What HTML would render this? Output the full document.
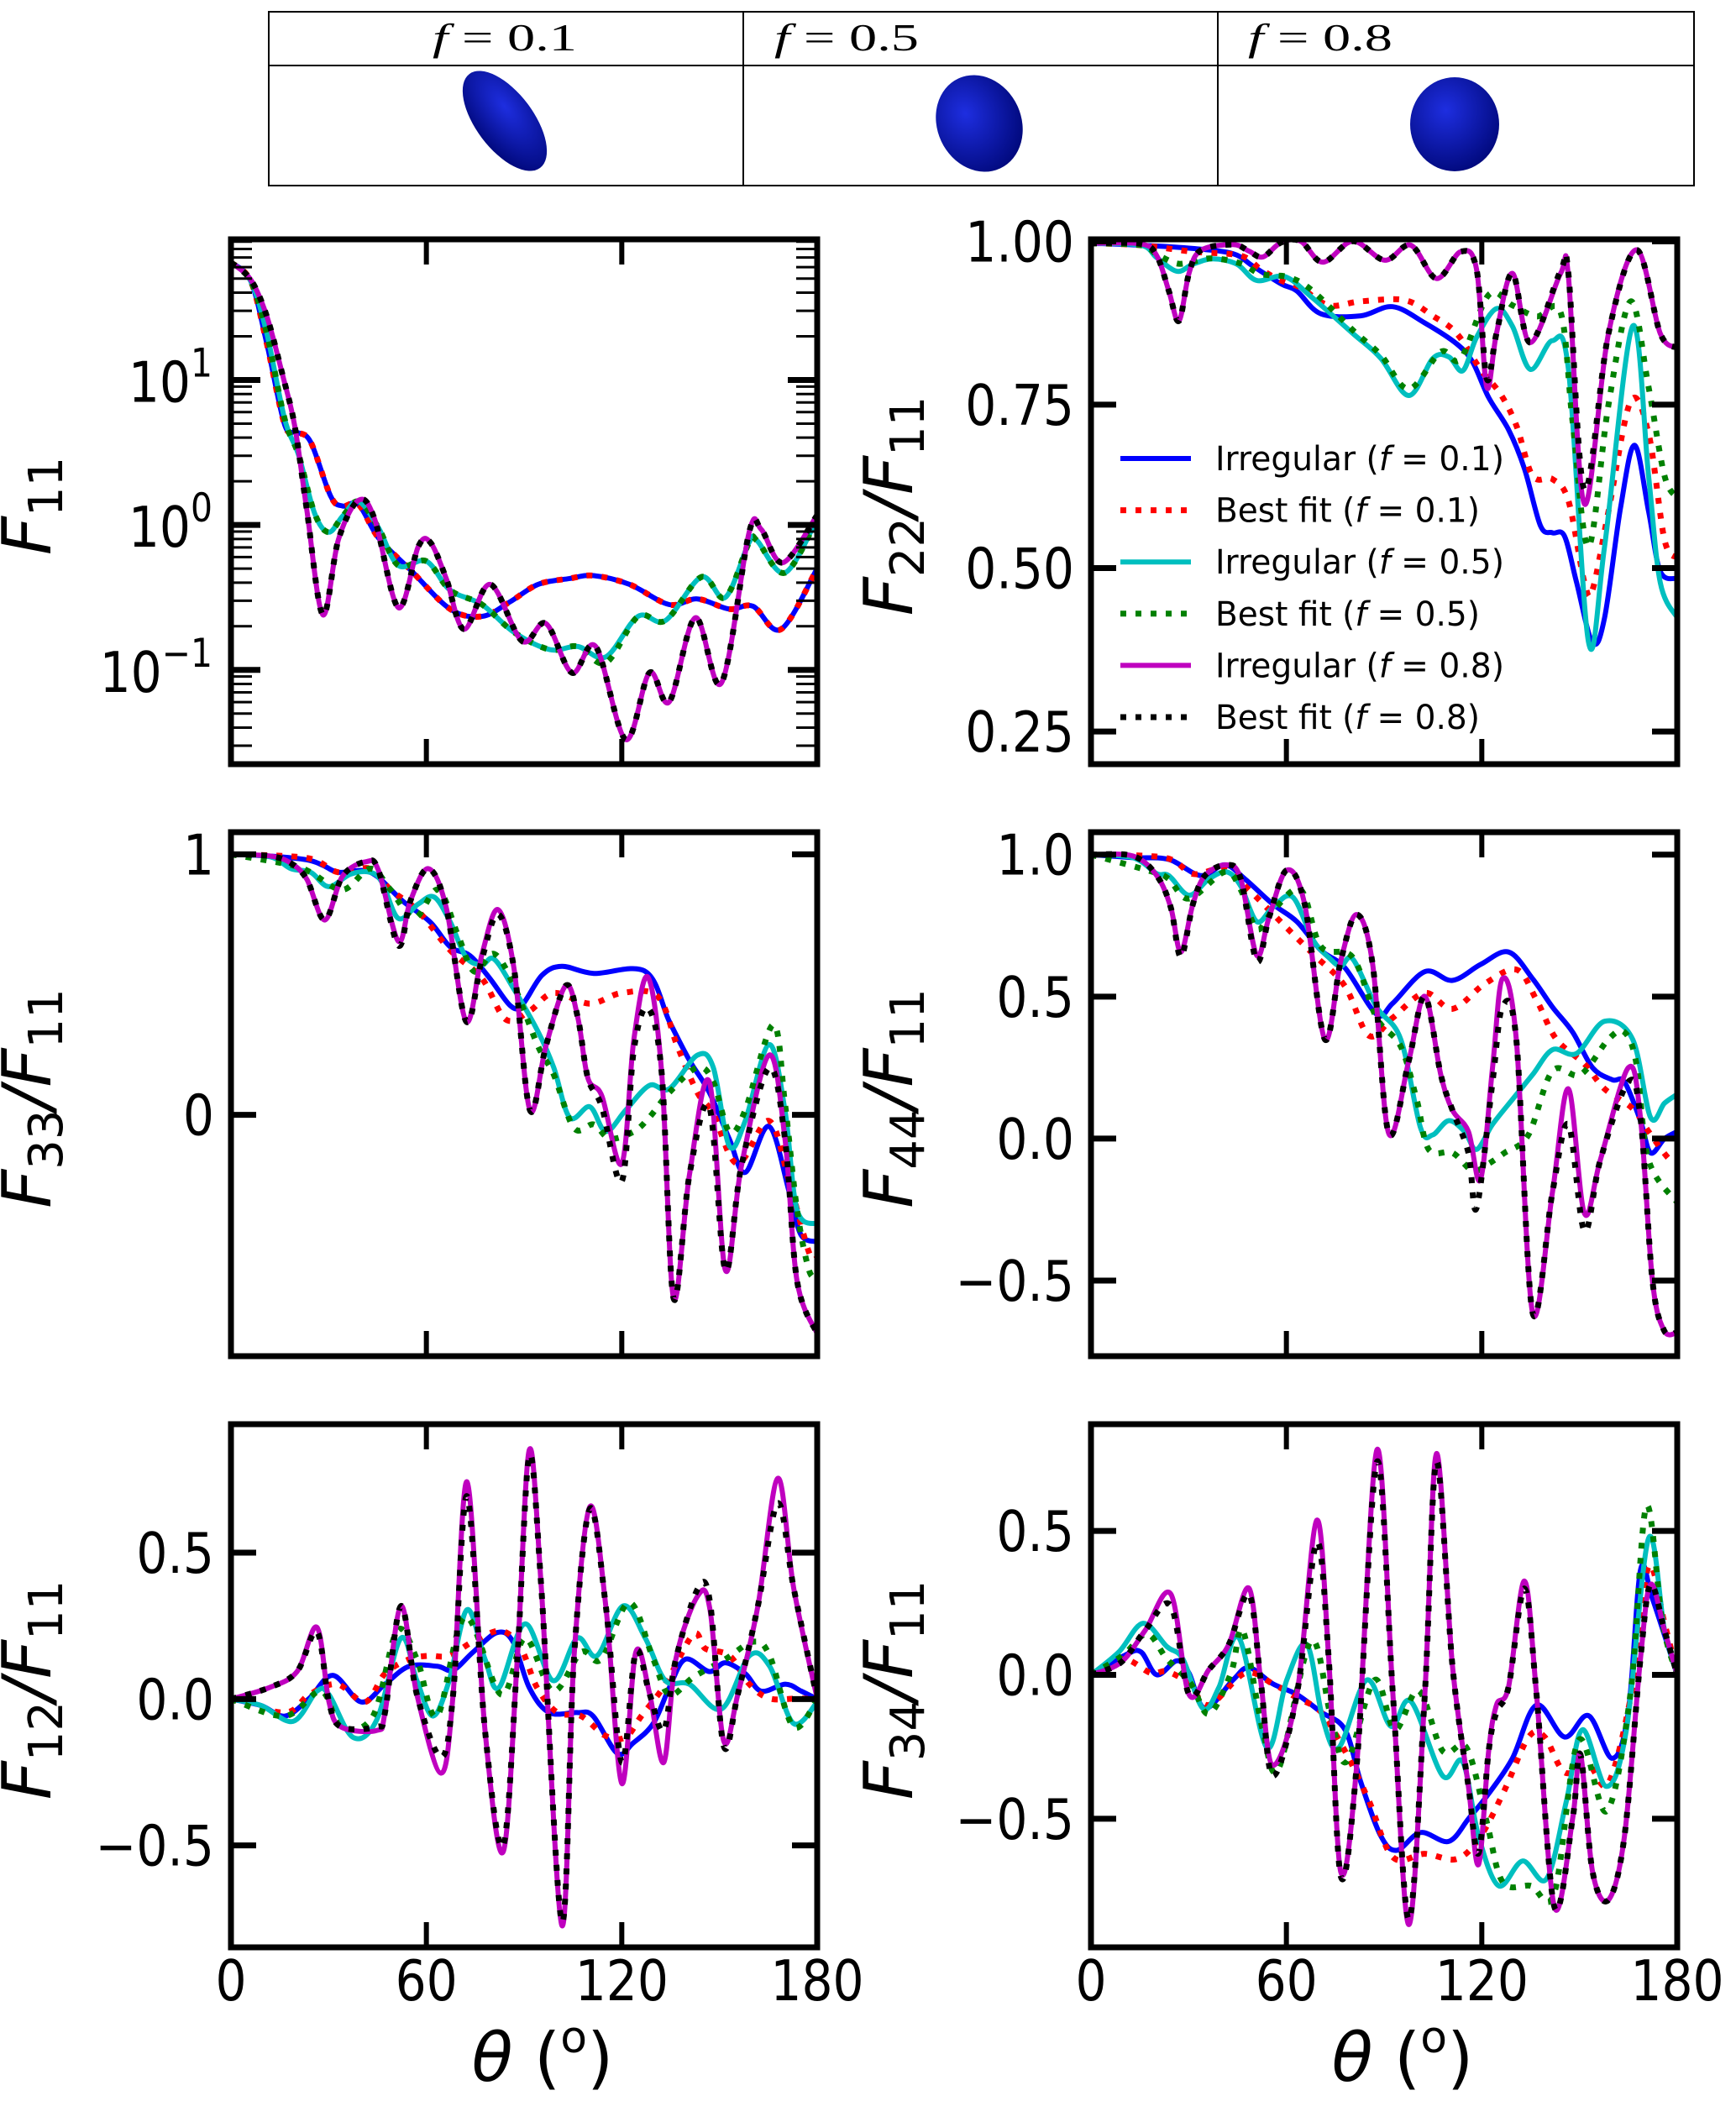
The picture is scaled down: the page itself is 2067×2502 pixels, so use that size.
<!DOCTYPE html>
<html><head><meta charset="utf-8"><title>Scattering matrix elements</title>
<style>
html,body{margin:0;padding:0;background:#fff;}
svg{display:block;font-family:"DejaVu Sans","Liberation Sans",sans-serif;}
</style></head>
<body>
<svg id="fig" xmlns="http://www.w3.org/2000/svg" width="2067" height="2502" viewBox="0 0 2067 2502">
<defs>
<radialGradient id="gb" cx="40%" cy="35%" r="70%"><stop offset="0" stop-color="#1e2ee0"/><stop offset="1" stop-color="#00087a"/></radialGradient>
</defs>
<g>
<rect x="320" y="14" width="1697" height="207" fill="none" stroke="#000" stroke-width="2"/>
<line x1="320" y1="78" x2="2017" y2="78" stroke="#000" stroke-width="2"/>
<line x1="885" y1="14" x2="885" y2="221" stroke="#000" stroke-width="2"/>
<line x1="1450" y1="14" x2="1450" y2="221" stroke="#000" stroke-width="2"/>
<text x="515" y="60" font-family="Liberation Serif,serif" font-size="46" textLength="172" lengthAdjust="spacingAndGlyphs"><tspan font-style="italic">f</tspan> = 0.1</text>
<text x="922" y="60" font-family="Liberation Serif,serif" font-size="46" textLength="172" lengthAdjust="spacingAndGlyphs"><tspan font-style="italic">f</tspan> = 0.5</text>
<text x="1486" y="60" font-family="Liberation Serif,serif" font-size="46" textLength="172" lengthAdjust="spacingAndGlyphs"><tspan font-style="italic">f</tspan> = 0.8</text>
<ellipse cx="601" cy="144" rx="70" ry="34" transform="rotate(53 601 144)" fill="url(#gb)"/>
<ellipse cx="1166" cy="147" rx="50" ry="59" transform="rotate(-25 1166 147)" fill="url(#gb)"/>
<ellipse cx="1732" cy="148" rx="53" ry="56" fill="url(#gb)"/>
</g>
</svg>
<script>
// ---------- F11 ----------
const f11_irr01_t=[0,6.1,11.0,16.5,20.2,24.5,30.6,34.3,39.2,45.3,55.1,67.3,77.1,85.7,94.3,104.0,111.4,122.4,134.6,143.2,153.0,160.3,168.9,180];
const f11_irr01_v=[64.6,47.9,17.8,4.90,4.37,3.72,1.58,1.35,1.38,0.813,0.490,0.263,0.234,0.295,0.389,0.427,0.447,0.389,0.282,0.309,0.263,0.275,0.191,0.501];
const f11_fit01_t=[0,6.1,11.0,16.5,20.2,24.5,30.6,34.3,39.2,45.3,55.1,67.3,77.1,85.7,94.3,104.0,111.4,122.4,134.6,143.2,153.0,160.3,168.9,180];
const f11_fit01_v=[64.6,47.9,17.8,4.90,4.37,3.72,1.58,1.35,1.38,0.813,0.490,0.263,0.234,0.295,0.389,0.427,0.447,0.389,0.282,0.309,0.263,0.275,0.191,0.501];
const f11_irr05_t=[0,6.1,11.0,16.5,20.8,25.7,30.0,34.3,39.2,45.3,51.4,60.0,67.3,77.1,86.9,97.9,106.5,115.1,125.0,133.4,144.4,151.8,159.1,161.6,170.1,180];
const f11_irr05_v=[64.6,47.9,20.9,5.37,3.02,1.20,0.891,1.15,1.45,0.955,0.525,0.562,0.355,0.282,0.182,0.138,0.145,0.123,0.234,0.219,0.437,0.316,0.759,0.776,0.468,1.10];
const f11_fit05_t=[0,6.1,11.0,16.5,20.8,25.7,30.0,34.3,39.2,45.3,51.4,60.0,67.3,77.1,86.9,97.9,106.5,115.1,125.0,133.4,144.4,151.8,159.1,161.6,170.1,180];
const f11_fit05_v=[64.6,47.9,20.9,5.37,3.02,1.20,0.891,1.15,1.45,0.955,0.525,0.562,0.355,0.282,0.182,0.138,0.145,0.112,0.234,0.219,0.437,0.316,0.759,0.776,0.468,1.10];
const f11_irr08_t=[0,6.1,11.0,15.9,19.6,23.3,28.2,33.0,39.2,44.1,51.4,57.5,61.2,66.1,71.6,79.6,89.4,96.7,104.7,112.0,121.2,128.5,134.6,142.6,150.6,159.1,162.8,169.5,180];
const f11_irr08_v=[64.6,49.0,27.5,10.7,4.79,1.26,0.240,0.794,1.48,1.10,0.269,0.708,0.759,0.427,0.191,0.389,0.158,0.209,0.0955,0.145,0.0331,0.0955,0.0603,0.229,0.0813,0.891,0.933,0.550,1.17];
const f11_fit08_t=[0,6.1,11.0,15.9,19.6,23.3,28.2,33.0,39.2,44.1,51.4,57.5,61.2,66.1,71.6,79.6,89.4,96.7,104.7,112.0,121.2,128.5,134.6,142.6,150.6,159.1,162.8,169.5,180];
const f11_fit08_v=[64.6,49.0,27.5,10.7,4.79,1.26,0.240,0.794,1.48,1.10,0.269,0.708,0.759,0.427,0.191,0.389,0.158,0.209,0.0955,0.145,0.0331,0.0955,0.0603,0.229,0.0813,0.891,0.933,0.550,1.17];
// ---------- F22/F11 ----------
const f22_irr01_t=[0,15.3,31.3,43.6,49.7,58.3,63.2,70.6,82.8,92.6,102.5,112.3,117.2,122.1,128.2,133.1,138.0,141.7,145.4,149.1,154.0,157.7,162.6,166.9,171.2,174.8,180];
const f22_irr01_v=[0.997,0.994,0.989,0.981,0.962,0.935,0.924,0.889,0.886,0.900,0.875,0.843,0.815,0.761,0.712,0.652,0.565,0.554,0.549,0.478,0.386,0.424,0.592,0.688,0.587,0.495,0.484];
const f22_fit01_t=[0,15.3,31.3,46.0,52.1,58.3,64.4,73.0,82.8,96.3,104.9,112.3,119.6,125.8,130.7,135.6,141.7,146.6,151.5,154.0,158.9,165.7,171.2,176.1,180];
const f22_fit01_v=[0.997,0.994,0.984,0.978,0.957,0.940,0.929,0.902,0.908,0.910,0.886,0.859,0.804,0.766,0.717,0.641,0.636,0.603,0.478,0.467,0.587,0.755,0.706,0.543,0.516];
const f22_irr05_t=[0,15.3,20.2,26.4,31.3,37.4,44.8,50.9,59.5,68.1,80.4,89.0,97.6,105.0,109.9,114.2,118.4,124.5,129.4,134.9,141.7,146.6,152.8,157.7,166.3,171.2,174.8,180];
const f22_irr05_v=[0.997,0.994,0.975,0.954,0.965,0.973,0.965,0.940,0.946,0.913,0.859,0.821,0.764,0.821,0.823,0.802,0.853,0.897,0.870,0.804,0.848,0.804,0.386,0.533,0.870,0.641,0.478,0.424];
const f22_fit05_t=[0,15.3,20.2,26.4,31.3,37.4,46.0,52.1,60.7,68.1,80.4,89.0,97.6,107.4,113.5,122.1,129.4,136.8,144.2,147.9,152.8,158.9,165.7,171.2,176.1,180];
const f22_fit05_v=[0.997,0.994,0.980,0.966,0.969,0.974,0.966,0.950,0.945,0.924,0.864,0.826,0.774,0.831,0.820,0.918,0.902,0.885,0.891,0.723,0.533,0.750,0.908,0.777,0.641,0.608];
const f22_irr08_t=[0,15.3,20.2,23.9,27.0,30.1,33.7,43.6,48.5,52.8,58.3,64.4,71.2,80.4,90.2,98.2,106.1,113.5,118.4,121.5,124.5,129.4,134.9,144.2,146.6,151.5,158.9,167.5,174.8,180];
const f22_irr08_v=[0.997,0.996,0.978,0.924,0.878,0.951,0.986,0.995,0.985,0.976,0.998,1.0,0.968,1.0,0.971,0.994,0.943,0.984,0.957,0.777,0.859,0.951,0.845,0.951,0.946,0.598,0.859,0.987,0.859,0.837];
const f22_fit08_t=[0,15.3,20.2,23.9,27.0,30.1,33.7,43.6,48.5,52.8,58.3,64.4,71.2,80.4,90.2,98.2,106.1,113.5,118.4,121.5,124.5,129.4,134.9,144.2,146.6,151.5,158.9,167.5,174.8,180];
const f22_fit08_v=[0.997,0.996,0.978,0.924,0.878,0.951,0.986,0.995,0.985,0.976,0.998,1.0,0.968,1.0,0.971,0.994,0.943,0.984,0.957,0.790,0.859,0.951,0.845,0.955,0.950,0.620,0.859,0.987,0.859,0.837];
// ---------- F33/F11 ----------
const f33_irr01_t=[0,12.2,23.3,28.2,33.0,40.4,45.3,52.6,61.2,67.3,73.4,79.6,85.7,89.3,95.5,101.6,111.4,127.3,134.6,140.8,146.9,153.0,157.9,165.2,171.4,175.0,180];
const f33_irr01_v=[1.0,0.993,0.979,0.958,0.931,0.938,0.911,0.822,0.740,0.645,0.611,0.522,0.420,0.420,0.536,0.570,0.543,0.550,0.359,0.209,0.086,-0.092,-0.221,-0.044,-0.296,-0.460,-0.487];
const f33_fit01_t=[0,23.3,33.0,42.8,49.0,57.5,67.3,77.1,84.4,91.8,99.1,110.2,120.0,131.0,137.1,143.2,148.1,155.5,165.2,171.4,177.5,180];
const f33_fit01_v=[1.0,0.986,0.931,0.945,0.864,0.782,0.632,0.523,0.366,0.400,0.468,0.427,0.468,0.455,0.263,0.086,0.005,-0.187,-0.023,-0.255,-0.528,-0.55];
const f33_irr05_t=[0,12.2,18.4,24.5,30.0,36.7,42.8,46.5,51.4,57.5,62.4,67.3,72.2,77.1,80.8,86.9,94.3,99.1,104.0,110.2,115.1,121.2,128.5,134.6,143.2,148.1,153.0,157.9,165.2,170.1,173.8,180];
const f33_irr05_v=[1.0,0.990,0.945,0.931,0.876,0.924,0.931,0.890,0.754,0.809,0.836,0.741,0.605,0.577,0.598,0.482,0.319,0.182,-0.010,0.031,-0.064,0.018,0.113,0.100,0.229,0.182,-0.119,-0.023,0.270,0.018,-0.364,-0.419];
const f33_fit05_t=[0,18.4,24.5,34.3,42.8,49.0,56.3,63.6,69.8,74.7,80.8,86.9,94.3,99.1,105.3,111.4,116.3,123.7,128.5,134.6,143.2,148.1,153.0,157.9,166.5,170.1,173.8,177.5,180];
const f33_fit05_v=[1.0,0.959,0.931,0.864,0.945,0.864,0.755,0.864,0.686,0.550,0.618,0.495,0.263,0.155,-0.050,-0.037,-0.091,-0.064,-0.009,0.086,0.182,0.127,-0.064,0.018,0.346,0.045,-0.364,-0.596,-0.62];
const f33_irr08_t=[0,12.2,18.4,23.3,28.8,34.3,41.6,45.3,51.4,55.1,60.6,66.1,72.2,77.1,82.0,86.9,91.8,96.7,102.8,106.5,109.6,113.9,120.0,123.7,128.0,132.3,135.9,140.8,146.9,151.8,156.7,165.2,170.1,173.8,180];
const f33_irr08_v=[1.0,0.993,0.966,0.904,0.748,0.917,0.972,0.938,0.666,0.822,0.945,0.796,0.359,0.618,0.788,0.562,0.018,0.264,0.496,0.373,0.141,0.072,-0.187,0.289,0.529,0.155,-0.704,-0.228,0.127,-0.595,-0.199,0.229,-0.091,-0.637,-0.84];
const f33_fit08_t=[0,12.2,18.4,23.3,28.8,34.3,41.6,45.3,51.4,55.1,60.6,66.1,72.2,77.1,82.0,86.9,91.8,96.7,102.8,106.5,109.6,113.9,120.0,123.7,128.0,132.3,135.9,140.8,146.9,151.8,156.7,165.2,170.1,173.8,180];
const f33_fit08_v=[1.0,0.993,0.966,0.904,0.748,0.917,0.972,0.938,0.650,0.822,0.945,0.796,0.359,0.600,0.770,0.562,0.018,0.264,0.496,0.373,0.141,0.030,-0.255,0.250,0.410,0.155,-0.704,-0.228,0.030,-0.595,-0.199,0.180,-0.091,-0.637,-0.84];
// ---------- F44/F11 ----------
const f44_irr01_t=[0,12.9,23.9,33.7,41.1,47.3,55.8,63.2,70.6,78.0,87.7,92.6,102.5,111.0,119.6,128.2,135.6,141.7,147.9,154.0,160.1,163.8,168.7,171.8,176.1,180];
const f44_irr01_v=[1.0,0.989,0.983,0.926,0.964,0.914,0.826,0.764,0.663,0.601,0.438,0.476,0.588,0.557,0.613,0.657,0.563,0.463,0.375,0.250,0.207,0.200,0.063,-0.050,0.0,0.025];
const f44_fit01_t=[0,22.7,31.3,41.1,48.5,58.3,68.1,77.9,85.3,92.6,102.5,111.0,120.9,130.7,136.8,142.9,151.5,157.7,166.3,171.2,177.3,180];
const f44_fit01_v=[1.0,0.989,0.932,0.951,0.876,0.763,0.651,0.538,0.363,0.425,0.513,0.457,0.545,0.595,0.488,0.350,0.263,0.175,0.106,0.025,-0.069,-0.08];
const f44_irr05_t=[0,12.9,20.2,23.9,30.1,36.2,41.7,46.0,50.9,55.8,61.9,68.1,73.0,76.7,80.4,87.7,95.1,101.2,104.9,109.8,114.7,118.4,123.3,129.4,135.6,141.7,149.1,157.7,166.3,171.8,176.1,180];
const f44_irr05_v=[1.0,0.989,0.933,0.926,0.857,0.914,0.939,0.889,0.764,0.814,0.851,0.701,0.638,0.607,0.632,0.463,0.350,0.038,0.013,0.063,0.025,-0.038,0.050,0.138,0.225,0.313,0.300,0.413,0.350,0.075,0.125,0.156];
const f44_fit05_t=[0,19.0,23.9,30.1,41.1,46.0,50.9,55.8,64.4,70.6,80.4,87.7,95.1,100.0,103.7,111.0,117.2,122.1,127.0,134.3,141.7,150.3,158.9,163.8,167.5,171.2,180];
const f44_fit05_v=[1.0,0.939,0.914,0.845,0.939,0.876,0.738,0.801,0.876,0.676,0.638,0.425,0.325,0.138,-0.038,-0.050,-0.113,-0.088,-0.050,0.013,0.238,0.225,0.350,0.375,0.263,-0.075,-0.225];
const f44_irr08_t=[0,12.9,20.2,24.5,27.6,31.3,35.0,41.7,46.0,50.9,54.6,60.1,65.6,71.8,76.7,81.6,86.5,91.4,97.6,102.5,107.4,111.0,115.9,119.6,123.3,126.3,130.6,135.6,141.7,146.6,151.5,156.4,165.0,168.7,172.4,176.0,180];
const f44_irr08_v=[1.0,0.995,0.926,0.814,0.657,0.826,0.926,0.964,0.914,0.645,0.776,0.945,0.826,0.350,0.626,0.789,0.613,0.019,0.275,0.501,0.225,0.100,0.025,-0.144,0.250,0.563,0.350,-0.613,-0.188,0.175,-0.263,-0.075,0.250,0.075,-0.500,-0.676,-0.682];
const f44_fit08_t=[0,12.9,20.2,24.5,27.6,31.3,35.0,41.7,46.0,50.9,54.6,60.1,65.6,71.8,76.7,81.6,86.5,91.4,97.6,102.5,107.4,111.0,115.9,118.4,123.3,126.3,130.6,135.6,141.7,146.6,151.5,156.4,165.0,168.7,172.4,176.0,180];
const f44_fit08_v=[1.0,0.995,0.926,0.814,0.640,0.826,0.926,0.964,0.914,0.625,0.776,0.945,0.826,0.350,0.626,0.789,0.613,0.019,0.275,0.501,0.225,0.100,-0.050,-0.244,0.200,0.463,0.350,-0.613,-0.188,0.050,-0.325,-0.075,0.200,0.075,-0.500,-0.676,-0.682];
// ---------- F12/F11 ----------
const f12_irr01_t=[0,9.2,16.6,24.0,31.3,40.0,47.3,54.7,63.3,68.2,74.3,81.7,86.6,91.6,97.7,106.3,111.2,118.6,123.5,129.7,134.6,139.5,146.9,151.8,157.9,162.8,170.2,175.1,180];
const f12_irr01_v=[0,-0.022,-0.058,0.002,0.081,-0.010,0.051,0.112,0.112,0.099,0.160,0.227,0.196,0.039,-0.046,-0.046,-0.058,-0.185,-0.150,-0.083,0.039,0.136,0.094,0.124,0.087,0.027,0.051,0.027,0.0];
const f12_fit01_t=[0,16.6,24.0,32.6,41.2,47.3,54.7,60.8,67.0,74.3,83.0,89.1,94.0,100.2,107.5,114.9,121.1,126.0,133.4,142.0,145.7,153.1,159.2,165.4,174.0,180];
const f12_fit01_v=[0,-0.046,0.015,0.051,-0.010,0.087,0.136,0.148,0.148,0.196,0.233,0.172,0.039,-0.046,-0.058,-0.125,-0.131,-0.058,0.051,0.221,0.172,0.148,0.051,0.002,0.002,0.0];
const f12_irr05_t=[0,9.2,19.1,26.4,30.1,37.5,44.8,52.2,57.1,62.0,67.0,72.5,78.0,82.3,90.3,98.9,106.3,112.4,120.4,127.2,133.4,140.7,150.6,159.2,165.4,172.7,180];
const f12_irr05_v=[0,-0.022,-0.076,0.027,0.015,-0.131,-0.070,0.208,0.063,-0.058,0.063,0.305,0.136,0.039,0.257,0.063,0.208,0.148,0.318,0.208,0.063,0.051,-0.034,0.148,0.112,-0.083,-0.010];
const f12_fit05_t=[0,16.6,27.7,33.8,43.6,51.0,57.1,63.3,71.9,83.0,90.3,98.9,107.5,113.7,122.3,129.7,134.6,142.0,151.8,160.4,165.4,172.7,180];
const f12_fit05_v=[0,-0.058,0.027,-0.095,-0.058,0.233,0.136,-0.058,0.281,0.015,0.208,0.027,0.160,0.136,0.330,0.136,0.015,0.075,0.136,0.196,0.148,-0.095,0];
const f12_irr08_t=[0,11.7,20.3,26.4,30.1,33.8,44.8,47.3,52.2,57.1,64.5,68.2,72.5,78.0,83.6,87.9,91.6,95.3,101.6,105.3,110.2,115.1,120.0,124.3,128.6,132.9,136.6,143.4,147.1,151.3,155.6,161.8,167.9,172.8,180];
const f12_irr08_v=[0,0.039,0.094,0.245,-0.010,-0.095,-0.107,-0.046,0.318,0.015,-0.253,0.015,0.742,-0.107,-0.521,0.136,0.851,0.378,-0.773,0.136,0.657,0.318,-0.288,0.160,0.015,-0.216,0.136,0.354,0.305,-0.143,0.015,0.318,0.754,0.378,0.002];
const f12_fit08_t=[0,11.7,20.3,26.4,30.1,33.8,44.8,47.3,52.2,57.1,64.5,68.2,72.5,78.0,83.6,87.9,91.6,95.3,101.6,105.3,110.2,115.1,120.0,124.3,128.6,132.9,136.6,143.4,147.1,151.3,155.6,161.8,167.9,172.8,180];
const f12_fit08_v=[0,0.039,0.094,0.230,-0.010,-0.095,-0.095,-0.046,0.318,0.015,-0.198,0.015,0.693,-0.107,-0.500,0.136,0.830,0.378,-0.760,0.136,0.650,0.318,-0.216,0.160,0.015,-0.107,0.136,0.378,0.330,-0.160,0.015,0.318,0.669,0.378,0.002];
// ---------- F34/F11 ----------
const f34_irr01_t=[0,10.4,15.3,20.2,26.4,30.1,35.0,43.6,48.5,55.8,63.2,70.6,78.0,82.9,89.0,93.9,101.2,109.8,116.0,122.1,129.4,136.8,145.4,152.8,160.1,165.0,168.7,172.4,180];
const f34_irr01_v=[0,0.068,0.080,0.0,0.049,0.006,-0.117,-0.018,0.025,-0.031,-0.068,-0.129,-0.191,-0.375,-0.560,-0.610,-0.548,-0.579,-0.499,-0.413,-0.290,-0.105,-0.216,-0.142,-0.290,-0.129,0.363,0.265,0];
const f34_fit01_t=[0,9.8,18.4,23.3,30.1,36.2,47.3,55.8,63.2,70.6,78.0,85.3,92.7,102.5,112.3,119.6,127.0,134.4,139.3,145.4,152.8,158.9,166.3,171.2,176.1,180];
const f34_fit01_v=[0,0.055,0.006,0.012,-0.031,-0.105,0.006,-0.031,-0.080,-0.129,-0.265,-0.437,-0.634,-0.622,-0.640,-0.561,-0.400,-0.216,-0.216,-0.339,-0.314,-0.376,-0.043,0.376,0.179,0];
const f34_irr05_t=[0,8.6,16.0,23.3,28.2,34.4,39.3,45.4,54.0,60.1,66.3,71.2,76.1,84.7,92.1,98.2,108.0,114.1,119.0,125.2,132.5,139.9,146.0,150.9,158.3,164.4,171.2,176.1,180];
const f34_irr05_v=[0,0.080,0.179,0.098,0.055,-0.117,-0.043,0.129,-0.253,-0.018,0.105,-0.154,-0.253,-0.018,-0.179,-0.092,-0.351,-0.302,-0.561,-0.733,-0.647,-0.709,-0.437,-0.191,-0.388,-0.191,0.474,0.154,0];
const f34_fit05_t=[0,9.8,17.2,23.3,30.7,36.2,43.0,46.6,52.7,57.6,67.5,73.6,78.5,87.1,93.3,100.6,108.0,115.3,121.5,126.4,135.0,142.3,149.7,158.3,165.6,170.5,175.5,180];
const f34_fit05_v=[0,0.068,0.142,0.055,-0.031,-0.136,0.006,0.154,-0.191,-0.326,0.117,-0.142,-0.302,-0.018,-0.191,-0.055,-0.265,-0.253,-0.511,-0.720,-0.733,-0.757,-0.228,-0.474,-0.068,0.585,0.179,0];
const f34_irr08_t=[0,9.2,16.6,24.5,30.1,36.2,42.3,48.5,52.1,55.8,63.2,69.3,73.0,76.7,81.6,87.8,92.7,97.6,102.5,106.1,111.0,115.9,119.0,122.1,124.5,128.2,133.1,136.8,142.3,147.9,150.3,154.0,158.9,163.8,168.7,171.8,176.1,180];
const f34_irr08_v=[0,0.043,0.154,0.281,-0.068,0.018,0.105,0.301,-0.018,-0.314,-0.068,0.537,0.055,-0.685,-0.314,0.782,-0.068,-0.868,-0.068,0.769,0.031,-0.388,-0.659,-0.265,-0.105,-0.043,0.326,-0.068,-0.807,-0.499,-0.277,-0.684,-0.782,-0.561,0.055,0.314,0.154,0];
const f34_fit08_t=[0,9.2,16.6,24.5,30.1,36.2,42.3,48.5,52.1,55.8,63.2,69.3,73.0,76.7,81.6,87.8,92.7,97.6,102.5,106.1,111.0,115.9,119.0,122.1,124.5,128.2,133.1,136.8,142.3,147.9,150.3,154.0,158.9,163.8,168.7,171.8,176.1,180];
const f34_fit08_v=[0,0.043,0.154,0.240,-0.068,0.018,0.105,0.280,-0.018,-0.351,-0.068,0.460,0.055,-0.700,-0.314,0.740,-0.068,-0.850,-0.068,0.740,0.031,-0.388,-0.620,-0.265,-0.130,-0.043,0.300,-0.068,-0.807,-0.499,-0.277,-0.684,-0.782,-0.561,0.055,0.314,0.154,0];

// legend / style tables
const seriesKeys=['irr01','fit01','irr05','fit05','irr08','fit08'];
const legendPrefix=['Irregular (','Best fit (','Irregular (','Best fit (','Irregular (','Best fit ('];
const legendSuffix=[' = 0.1)',' = 0.1)',' = 0.5)',' = 0.5)',' = 0.8)',' = 0.8)'];
const STY={irr01:{c:'#0000ff',d:null},fit01:{c:'#ff0000',d:'7 11'},irr05:{c:'#00bfbf',d:null},fit05:{c:'#008000',d:'7 11'},irr08:{c:'#bf00bf',d:null},fit08:{c:'#000000',d:'7 11'}};
const DATA={
 f11:{irr01:[f11_irr01_t,f11_irr01_v],fit01:[f11_fit01_t,f11_fit01_v],irr05:[f11_irr05_t,f11_irr05_v],fit05:[f11_fit05_t,f11_fit05_v],irr08:[f11_irr08_t,f11_irr08_v],fit08:[f11_fit08_t,f11_fit08_v]},
 f22:{irr01:[f22_irr01_t,f22_irr01_v],fit01:[f22_fit01_t,f22_fit01_v],irr05:[f22_irr05_t,f22_irr05_v],fit05:[f22_fit05_t,f22_fit05_v],irr08:[f22_irr08_t,f22_irr08_v],fit08:[f22_fit08_t,f22_fit08_v]},
 f33:{irr01:[f33_irr01_t,f33_irr01_v],fit01:[f33_fit01_t,f33_fit01_v],irr05:[f33_irr05_t,f33_irr05_v],fit05:[f33_fit05_t,f33_fit05_v],irr08:[f33_irr08_t,f33_irr08_v],fit08:[f33_fit08_t,f33_fit08_v]},
 f44:{irr01:[f44_irr01_t,f44_irr01_v],fit01:[f44_fit01_t,f44_fit01_v],irr05:[f44_irr05_t,f44_irr05_v],fit05:[f44_fit05_t,f44_fit05_v],irr08:[f44_irr08_t,f44_irr08_v],fit08:[f44_fit08_t,f44_fit08_v]},
 f12:{irr01:[f12_irr01_t,f12_irr01_v],fit01:[f12_fit01_t,f12_fit01_v],irr05:[f12_irr05_t,f12_irr05_v],fit05:[f12_fit05_t,f12_fit05_v],irr08:[f12_irr08_t,f12_irr08_v],fit08:[f12_fit08_t,f12_fit08_v]},
 f34:{irr01:[f34_irr01_t,f34_irr01_v],fit01:[f34_fit01_t,f34_fit01_v],irr05:[f34_irr05_t,f34_irr05_v],fit05:[f34_fit05_t,f34_fit05_v],irr08:[f34_irr08_t,f34_irr08_v],fit08:[f34_fit08_t,f34_fit08_v]}
};
const xTickVals=[0,60,120,180];
const f22TickVals=[0.25,0.5,0.75,1.0];
const f22TickLabels=['0.25','0.50','0.75','1.00'];
const f33TickVals=[0,1];
const f33TickLabels=['0','1'];
const f44TickVals=[-0.5,0,0.5,1.0];
const f44TickLabels=['\u22120.5','0.0','0.5','1.0'];
const f12TickVals=[-0.5,0,0.5];
const f12TickLabels=['\u22120.5','0.0','0.5'];
const f34TickVals=[-0.5,0,0.5];
const f34TickLabels=['\u22120.5','0.0','0.5'];
const f11Decades=[-1,0,1];

const LX0=275,LX1=973,RX0=1299,RX1=1997;
const PANELS=[
 {id:'f11',x0:LX0,x1:LX1,y0:285,y1:910,log:true,top:1.97,bot:-1.65,sub:['11'],bottomLabels:false},
 {id:'f22',x0:RX0,x1:RX1,y0:285,y1:910,top:1.003,bot:0.20,tv:f22TickVals,tl:f22TickLabels,sub:['22','11'],legend:true},
 {id:'f33',x0:LX0,x1:LX1,y0:991,y1:1615,top:1.085,bot:-0.926,tv:f33TickVals,tl:f33TickLabels,sub:['33','11']},
 {id:'f44',x0:RX0,x1:RX1,y0:991,y1:1615,top:1.079,bot:-0.766,tv:f44TickVals,tl:f44TickLabels,sub:['44','11']},
 {id:'f12',x0:LX0,x1:LX1,y0:1696,y1:2319,top:0.939,bot:-0.848,tv:f12TickVals,tl:f12TickLabels,sub:['12','11'],bottomLabels:true},
 {id:'f34',x0:RX0,x1:RX1,y0:1696,y1:2319,top:0.871,bot:-0.947,tv:f34TickVals,tl:f34TickLabels,sub:['34','11'],bottomLabels:true}
];
const NS='http://www.w3.org/2000/svg';
const svg=document.getElementById('fig');
function mk(tag,attrs,parent){const e=document.createElementNS(NS,tag);for(const k in attrs)e.setAttribute(k,attrs[k]);(parent||svg).appendChild(e);return e;}
function catmull(pts){
 let d='M'+pts[0][0].toFixed(1)+','+pts[0][1].toFixed(1);
 for(let i=0;i<pts.length-1;i++){
  const p0=pts[i-1]||pts[i],p1=pts[i],p2=pts[i+1],p3=pts[i+2]||pts[i+1];
  const c1=[p1[0]+(p2[0]-p0[0])/6,p1[1]+(p2[1]-p0[1])/6];
  const c2=[p2[0]-(p3[0]-p1[0])/6,p2[1]-(p3[1]-p1[1])/6];
  d+='C'+c1[0].toFixed(1)+','+c1[1].toFixed(1)+' '+c2[0].toFixed(1)+','+c2[1].toFixed(1)+' '+p2[0].toFixed(1)+','+p2[1].toFixed(1);
 }
 return d;
}
function label(parent,x,y,str,size,anchor,sx){
 const g=mk('g',{transform:'translate('+x+','+y+') scale('+(sx||0.87)+',1)'},parent);
 const t=mk('text',{x:0,y:0,'font-size':size,'text-anchor':anchor||'middle',fill:'#000'},g);
 t.textContent=str;return t;
}
PANELS.forEach(function(P){
 const g=mk('g',{});
 
 
 const xs=function(t){return P.x0+(t/180)*(P.x1-P.x0);};
 const ys=function(v){const vv=P.log?Math.log10(v):v;return P.y0+(P.top-vv)/(P.top-P.bot)*(P.y1-P.y0);};
 const cp=mk('clipPath',{id:'clip-'+P.id},g);
 mk('rect',{x:P.x0,y:P.y0,width:P.x1-P.x0,height:P.y1-P.y0},cp);
 const sg=mk('g',{'clip-path':'url(#clip-'+P.id+')'},g);
 seriesKeys.forEach(function(k){
  const arr=DATA[P.id][k];const pts=arr[0].map(function(t,i){return [xs(t),ys(arr[1][i])];});
  const a={d:catmull(pts),fill:'none',stroke:STY[k].c,'stroke-width':STY[k].d?7:6,'stroke-linejoin':'round'};
  if(STY[k].d)a['stroke-dasharray']=STY[k].d;
  const p=mk('path',a,sg);
  
  
 });
 [60,120].forEach(function(t){
  const x=xs(t);
  mk('line',{x1:x,y1:P.y1,x2:x,y2:P.y1-30,stroke:'#000','stroke-width':6},g);
  mk('line',{x1:x,y1:P.y0,x2:x,y2:P.y0+30,stroke:'#000','stroke-width':6},g);
 });
 if(P.bottomLabels){
  xTickVals.forEach(function(t){
   const tl=label(g,xs(t),2382,String(t),67,'middle');
   
   
  });
  const xt=mk('text',{x:(P.x0+P.x1)/2+22,y:2478,'font-size':80,'text-anchor':'middle',fill:'#000'},g);
  
  
  const th=mk('tspan',{'font-style':'italic'},xt);th.textContent='\u03b8';
  const t2=mk('tspan',{},xt);t2.textContent=' (';
  const t3=mk('tspan',{'font-size':52,dy:-34},xt);t3.textContent='o';
  const t4=mk('tspan',{dy:34},xt);t4.textContent=')';
 }
 if(P.log){
  for(let dec=-2;dec<=1;dec++){
   for(let m=1;m<=9;m++){
    const v=m*Math.pow(10,dec);const L=Math.log10(v);
    if(L>P.top||L<P.bot)continue;
    const y=ys(v);const major=(m===1);
    const len=major?35:25,w=major?7:3;
    mk('line',{x1:P.x0,y1:y,x2:P.x0+len,y2:y,stroke:'#000','stroke-width':w},g);
    mk('line',{x1:P.x1,y1:y,x2:P.x1-len,y2:y,stroke:'#000','stroke-width':w},g);
   }
  }
  f11Decades.forEach(function(dec){
   const y=ys(Math.pow(10,dec));
   const gg=mk('g',{transform:'translate('+(P.x0-22)+','+(y+26)+') scale(0.87,1)'},g);
   const t=mk('text',{x:0,y:0,'font-size':67,'text-anchor':'end',fill:'#000'},gg);
   
   
   const a=mk('tspan',{},t);a.textContent='10';
   const b=mk('tspan',{'font-size':47,dy:-30},t);b.textContent=dec<0?'\u2212'+Math.abs(dec):String(dec);
  });
 } else {
  P.tv.forEach(function(v,i){
   const y=ys(v);
   mk('line',{x1:P.x0,y1:y,x2:P.x0+30,y2:y,stroke:'#000','stroke-width':7},g);
   mk('line',{x1:P.x1,y1:y,x2:P.x1-30,y2:y,stroke:'#000','stroke-width':7},g);
   const t=label(g,P.x0-20,y+24,P.tl[i],67,'end');
   
   
  });
 }
 mk('rect',{x:P.x0,y:P.y0,width:P.x1-P.x0,height:P.y1-P.y0,fill:'none',stroke:'#000','stroke-width':7},g);
 const cx=P.x0-(P.x0<1000?215:213),cy=(P.y0+P.y1)/2+5;
 const tt=mk('text',{transform:'translate('+cx+','+cy+') rotate(-90)','font-size':80,'text-anchor':'middle',fill:'#000'},g);
 
 
 const s1=mk('tspan',{'font-style':'italic'},tt);s1.textContent='F';
 const s2=mk('tspan',{'font-size':56,dy:14},tt);s2.textContent=P.sub[0];
 if(P.sub.length>1){
  const s3=mk('tspan',{dy:-14,'font-style':'italic'},tt);s3.textContent='/';
  const s4=mk('tspan',{'font-style':'italic'},tt);s4.textContent='F';
  const s5=mk('tspan',{'font-size':56,dy:14},tt);s5.textContent=P.sub[1];
 }
 if(P.legend){
  const lg=mk('g',{},g);
  
  
  seriesKeys.forEach(function(k,i){
   const y=546+i*61.6;
   const eg=mk('g',{},lg);
   
   
   const a={x1:1334,y1:y,x2:1418,y2:y,stroke:STY[k].c,'stroke-width':STY[k].d?7:6};
   if(STY[k].d)a['stroke-dasharray']=STY[k].d;
   mk('line',a,eg);
   const t=mk('text',{x:1447,y:y+14,'font-size':40,fill:'#000',textLength:(k.indexOf('irr')===0?344:315),lengthAdjust:'spacingAndGlyphs'},eg);
   const p1=mk('tspan',{},t);p1.textContent=legendPrefix[i];
   const p2=mk('tspan',{'font-style':'italic'},t);p2.textContent='f';
   const p3=mk('tspan',{},t);p3.textContent=legendSuffix[i];
  });
 }
});
</script>
</body></html>
